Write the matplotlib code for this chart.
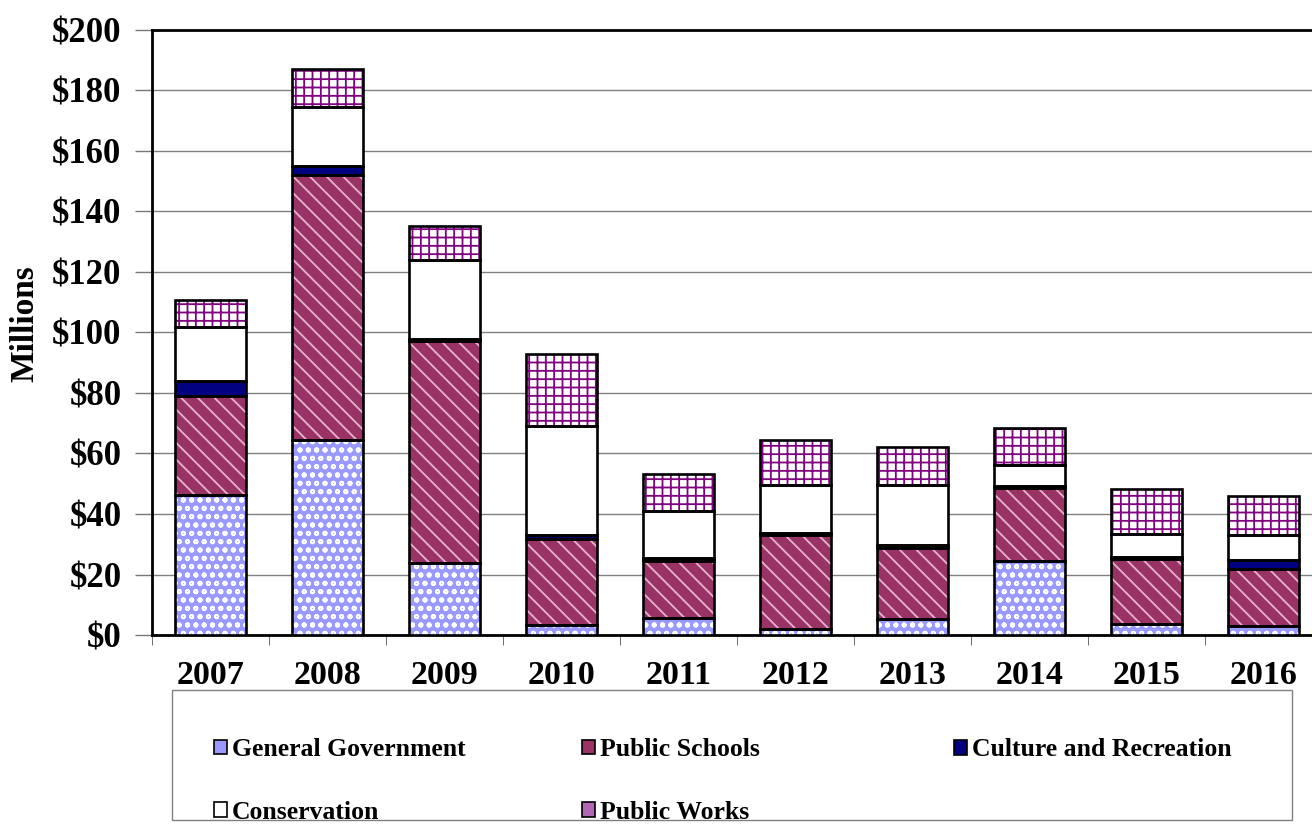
# Stacked bar chart of capital spending by function, 2007-2016
import matplotlib.pyplot as plt
from matplotlib.patches import Patch, Rectangle
import numpy as np

years = ["2007", "2008", "2009", "2010", "2011", "2012", "2013", "2014", "2015", "2016"]

# values in millions of dollars
general_government = [46.4, 64.4, 23.9, 3.4, 5.6, 2.0, 5.3, 24.6, 3.6, 3.1]
public_schools = [32.7, 87.6, 73.2, 28.4, 19.0, 30.9, 23.5, 24.1, 21.5, 18.8]
culture_recreation = [5.0, 2.9, 0.9, 1.1, 0.7, 0.7, 0.8, 0.5, 0.6, 3.0]
conservation = [17.6, 19.6, 25.9, 36.2, 15.8, 16.0, 20.0, 6.9, 7.8, 8.2]
public_works = [8.9, 12.7, 11.4, 23.9, 12.0, 14.7, 12.5, 12.4, 14.7, 12.8]

yticks = [0, 20, 40, 60, 80, 100, 120, 140, 160, 180, 200]
ytick_labels = ["$" + str(v) for v in yticks]

series = [
    ("General Government", general_government, "#9999FF", "oo", "white"),
    ("Public Schools", public_schools, "#993366", "\\\\", "#E6B3CC"),
    ("Culture and Recreation", culture_recreation, "#000080", None, "#000080"),
    ("Conservation", conservation, "white", None, "white"),
    ("Public Works", public_works, "white", "++", "#800080"),
]
legend_face = {"General Government": "#9999FF", "Public Schools": "#993366",
               "Culture and Recreation": "#000080", "Conservation": "white",
               "Public Works": "#B366B3"}

plt.rcParams["font.family"] = ["Liberation Serif", "DejaVu Serif"]
plt.rcParams["font.weight"] = "bold"
plt.rcParams["hatch.linewidth"] = 1.3

fig = plt.figure(figsize=(13.12, 8.36), dpi=100)
ax = fig.add_axes([152 / 1312, (836 - 635) / 836, 1170 / 1312, 605 / 836])

x = np.arange(len(years))
bottom = np.zeros(len(years))
for name, vals, face, hatch, hcol in series:
    ax.bar(x, vals, 0.6, bottom=bottom, color=face, hatch=hatch, edgecolor=hcol,
           linewidth=0, zorder=3)
    ax.bar(x, vals, 0.6, bottom=bottom, fill=False, edgecolor="black",
           linewidth=1.9, zorder=4)
    bottom += np.array(vals)

ax.set_xlim(-0.5, len(years) - 0.5)
ax.set_ylim(0, 200)
ax.set_yticks(yticks)
ax.set_yticklabels(ytick_labels, fontsize=25, fontweight="bold")
ax.set_xticks(x)
ax.set_xticklabels(years, fontsize=24.5, fontweight="bold")
ax.set_xticks(np.arange(len(years) + 1) - 0.5, minor=True)
ax.tick_params(axis="x", which="major", length=0, pad=18)
ax.tick_params(axis="x", which="minor", length=7, color="#555555", direction="out")
ax.tick_params(axis="y", length=12, color="#777777", width=1, pad=10)
ax.grid(axis="y", color="#808080", linewidth=1, zorder=0)
for side in ["left", "bottom", "top"]:
    ax.spines[side].set_linewidth(2)
    ax.spines[side].set_color("black")
ax.spines["right"].set_visible(False)
ax.set_ylabel("Millions", fontsize=24, fontweight="bold")
ax.yaxis.set_label_coords(-0.095, 0.515)

# legend box with three manually placed columns
fig.patches.append(Rectangle((172 / 1312, (836 - 820) / 836), 1120 / 1312, 130 / 836,
                             transform=fig.transFigure, fill=False,
                             edgecolor="#808080", linewidth=1))
handles = {name: Patch(facecolor=legend_face[name], edgecolor="black", linewidth=1.2)
           for name, _, _, _, _ in series}
columns = [(["General Government", "Conservation"], 214),
           (["Public Schools", "Public Works"], 582),
           (["Culture and Recreation"], 954)]
for names, xpos in columns:
    yc = 781 if len(names) == 2 else 750
    fig.legend([handles[n] for n in names], names, loc="center left",
               bbox_to_anchor=(xpos / 1312, 1 - yc / 836), frameon=False,
               prop={"size": 18.5, "weight": "bold"}, handlelength=0.5,
               handleheight=0.5, handletextpad=0.2, labelspacing=1.55,
               borderpad=0, borderaxespad=0)

fig.savefig("out.png", dpi=100)
